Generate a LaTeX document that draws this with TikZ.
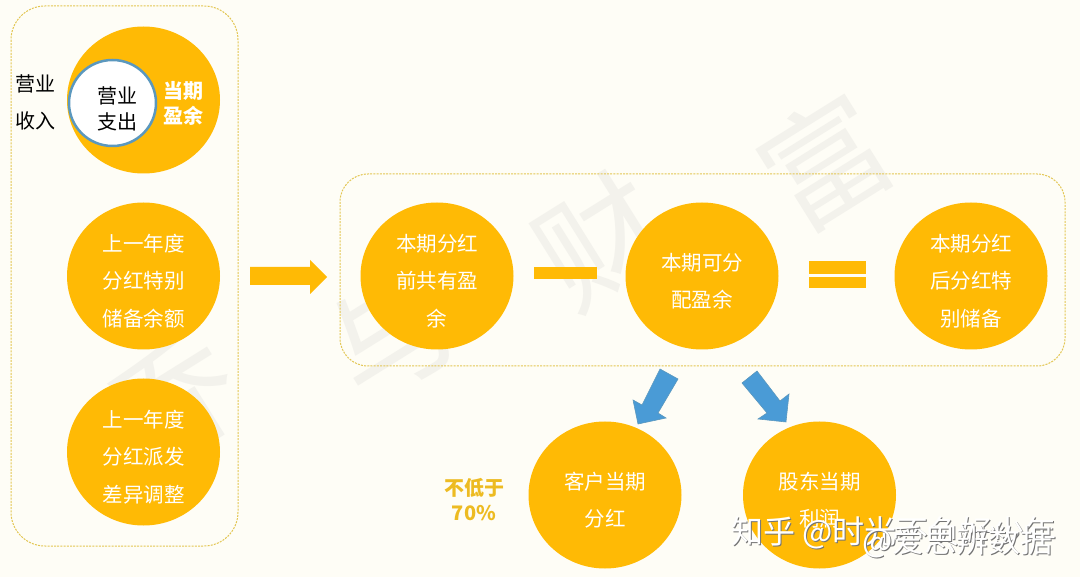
\documentclass[tikz,border=0pt]{standalone}
\usepackage{fontspec}
\setmainfont{Noto Sans CJK SC}
\usetikzlibrary{shapes.geometric}
\definecolor{bg}{HTML}{FEFDF6}
\definecolor{gold}{HTML}{FFBA05}
\definecolor{dashc}{HTML}{E3C653}
\definecolor{bluea}{HTML}{4A9BD6}
\definecolor{ringc}{HTML}{5B98BE}
\definecolor{wm}{HTML}{F3F2EC}
\definecolor{lowtxt}{HTML}{EDBB22}
\newcommand\shadowtext[1]{\rlap{\raisebox{-1.2pt}{\kern1.2pt\textcolor{black!55}{#1}}}#1}
\tikzset{x=1pt,y=-1pt,
 disc/.style={ellipse,fill=gold,minimum width=153pt,minimum height=147pt,inner sep=0pt},
 dtext/.style={text=white,align=center,font=\fontsize{20.5}{37.5}\selectfont,yshift=-5pt},
 group/.style={draw=dashc,dash pattern=on 2pt off 1.2pt,line width=1pt},
 wmark/.style={text=wm,font=\fontsize{125}{125}\selectfont,rotate=32},
 sign/.style={fill=gold},
 bluearrow/.style={fill=bluea,draw=ringc,line width=.6pt,line join=miter},
 logo/.style={text=white,inner sep=0pt,anchor=west}}
\begin{document}
\begin{tikzpicture}
\useasboundingbox (0,0) rectangle (1080,577);
\fill[bg] (0,0) rectangle (1080,577);
\node[wmark] (w1) at (825,162) {富};
\node[wmark] (w2) at (600,240) {财};
\node[wmark] (w3) at (392,335) {与};
\node[wmark] (w4) at (175,400) {乔};
\draw[group,rounded corners=34pt] (11,6) rectangle (238,546);
\draw[group,rounded corners=28pt] (340,174) rectangle (1065,366);
\node[disc] (a) at (143.5,100) {};
\node[ellipse,fill=white,draw=ringc,line width=2.5pt,minimum width=87pt,minimum height=86pt,inner sep=0pt] (b) at (112.5,103) {};
\node[align=center,font=\fontsize{20}{26}\selectfont] (b1) at (117,109) {营业\\支出};
\node[align=center,font=\fontsize{20}{37}\selectfont] (c) at (36,102) {营业\\收入};
\node[align=center,text=white,font=\fontsize{20}{25}\bfseries\selectfont] (d) at (183,103) {当期\\盈余};
\node[disc,label={[dtext]center:{上一年度\\分红特别\\储备余额}}] (e) at (143.5,276) {};
\node[disc,label={[dtext]center:{上一年度\\分红派发\\差异调整}}] (f) at (143.5,452) {};
\node[disc,label={[dtext]center:{本期分红\\前共有盈\\余}}] (g) at (437,276) {};
\node[disc,label={[dtext]center:{本期可分\\配盈余}}] (h) at (702,276) {};
\node[disc,label={[dtext]center:{本期分红\\后分红特\\别储备}}] (i) at (971,276) {};
\node[disc,label={[dtext]center:{客户当期\\分红}}] (j) at (605,495) {};
\node[disc,label={[dtext]center:{股东当期\\利润}}] (k) at (819.5,495) {};
\node[align=center,text=lowtxt,font=\fontsize{20}{25}\bfseries\selectfont] (l) at (474,500) {不低于\\70\%};
\fill[sign] (250,267) -- (310,267) -- (310,260) -- (327,277) -- (310,294) -- (310,285) -- (250,285) -- cycle;
\fill[sign] (534,267) rectangle (597,279);
\fill[sign] (809,261) rectangle (866,274);
\fill[sign] (809,277) rectangle (866,288);
\draw[bluearrow] (660,369) -- (678,379) -- (658,413) -- (666,418) -- (638,424) -- (633,400) -- (642,405) -- cycle;
\draw[bluearrow] (757,371) -- (742,383) -- (767,413) -- (758,419) -- (786,422) -- (789,394) -- (780,401) -- cycle;
\node[logo,font=\fontsize{32}{32}\selectfont] (z1) at (731,533) {\shadowtext{知乎 @时光不负好少年}};
\node[logo,font=\fontsize{32}{32}\selectfont] (z2) at (862,542) {\shadowtext{@爱思辨数据}};
\end{tikzpicture}
\end{document}
